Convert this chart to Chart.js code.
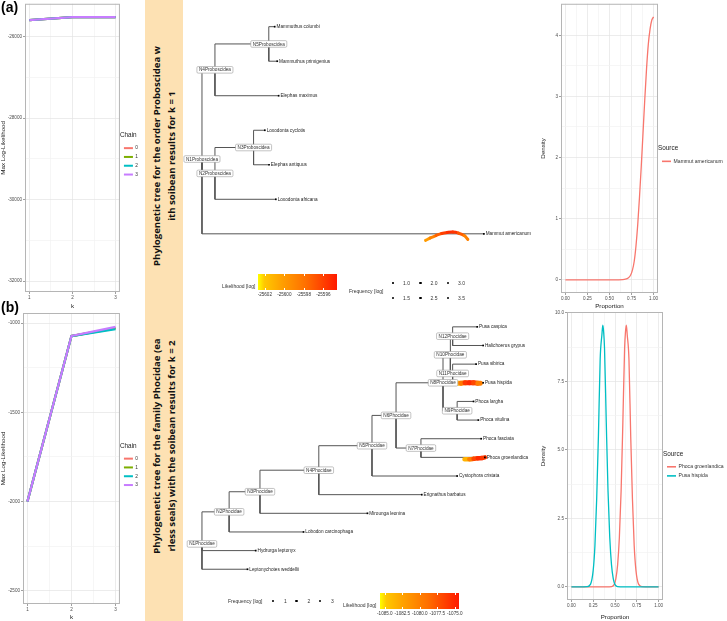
<!DOCTYPE html>
<html>
<head>
<meta charset="utf-8">
<title>soibean</title>
<script src="https://cdn.jsdelivr.net/npm/chart.js@4.4.1/dist/chart.umd.min.js"></script>
<style>
body{margin:0;background:#fff;}
#fig{position:relative;width:727px;height:621px;overflow:hidden;font-family:"Liberation Sans",Arial,sans-serif;color:#333;}
canvas{position:absolute;}
.lab{position:absolute;font-weight:bold;font-size:14px;line-height:14px;color:#000;z-index:5;}
.band{position:absolute;left:145px;top:0;width:38px;height:621px;background:#fde1b3;}
.bt{position:absolute;width:300px;height:38px;font-family:"Open Sans",sans-serif;font-weight:bold;font-size:9.6px;line-height:15px;text-align:center;color:#111;transform:rotate(-90deg);display:flex;flex-direction:column;justify-content:center;white-space:nowrap;}
.lg{position:absolute;font-size:5px;line-height:6px;color:#333;white-space:nowrap;}
</style>
</head>
<body>
<div id="fig">
  <div class="band"></div>
  <div class="bt" style="left:14px;top:137px"><div>Phylogenetic tree for the order Proboscidea w</div><div>ith soibean results for k = 1</div></div>
  <div class="bt" style="left:14px;top:427px"><div>Phylogenetic tree for the family Phocidae (ea</div><div>rless seals) with the soibean results for k = 2</div></div>
  <canvas id="lineA" width="148" height="310" style="left:0;top:0"></canvas>
  <canvas id="lineB" width="148" height="316" style="left:0;top:305px"></canvas>
  <canvas id="treeA" width="357" height="305" style="left:183px;top:0"></canvas>
  <canvas id="treeB" width="357" height="316" style="left:183px;top:305px"></canvas>
  <canvas id="densA" width="187" height="310" style="left:540px;top:0"></canvas>
  <canvas id="densB" width="187" height="316" style="left:540px;top:305px"></canvas>
  <div id="legends"></div>
  <div class="lab" style="left:1px;top:0">(a)</div>
  <div class="lab" style="left:1px;top:300px">(b)</div>
</div>
<script>
// ---- data ----
const kVals = [1, 2, 3];
const chainLabels = ['0', '1', '2', '3'];
const chainColors = ['#F8766D', '#7CAE00', '#00BFC4', '#C77CFF'];

// max log-likelihood per chain, Proboscidea (a)
const llA_0 = [-25592, -25519, -25519];
const llA_1 = [-25592, -25519, -25518];
const llA_2 = [-25591, -25518, -25518];
const llA_3 = [-25590, -25517, -25517];
const yTicksA = [-26000, -28000, -30000, -32000];

// max log-likelihood per chain, Phocidae (b)
const llB_0 = [-2000, -1073, -1030];
const llB_1 = [-2000, -1073, -1028];
const llB_2 = [-2000, -1073, -1034];
const llB_3 = [-2000, -1072, -1022];
const yTicksB = [-1000, -1500, -2000, -2500];

// density of the proportion (a)
const mammutX = [0, 0.1, 0.2, 0.3, 0.4, 0.5, 0.6, 0.65, 0.68, 0.70, 0.72, 0.74, 0.76, 0.78, 0.80, 0.82, 0.84, 0.86, 0.88, 0.90, 0.92, 0.94, 0.96, 0.98, 1.0];
const mammutY = [0, 0, 0, 0, 0, 0, 0.001, 0.004, 0.01, 0.02, 0.04, 0.08, 0.16, 0.3, 0.55, 0.9, 1.35, 1.85, 2.4, 2.95, 3.45, 3.85, 4.1, 4.25, 4.3];

// density of the proportion (b)
const phocaX = [0, 0.2, 0.4, 0.46, 0.49, 0.51, 0.53, 0.55, 0.57, 0.59, 0.61, 0.62, 0.63, 0.64, 0.66, 0.68, 0.70, 0.72, 0.74, 0.77, 0.81, 0.9, 1.0];
const phocaY = [0, 0, 0, 0.01, 0.08, 0.3, 0.8, 1.8, 3.5, 6.0, 8.7, 9.3, 9.55, 9.2, 8.3, 5.5, 3.2, 1.5, 0.6, 0.1, 0.01, 0, 0];
const pusaX = [0, 0.1, 0.18, 0.22, 0.25, 0.27, 0.29, 0.31, 0.33, 0.35, 0.36, 0.37, 0.38, 0.40, 0.42, 0.44, 0.46, 0.48, 0.50, 0.53, 0.6, 0.8, 1.0];
const pusaY = [0, 0, 0.01, 0.1, 0.6, 1.5, 3.2, 5.5, 8.3, 9.2, 9.55, 9.3, 8.7, 6.0, 3.5, 1.8, 0.8, 0.3, 0.08, 0.01, 0, 0, 0];

// tree (a) Proboscidea, tips from bottom to top
const tipsA = ['Mammut americanum', 'Loxodonta africana', 'Elephas antiquus', 'Loxodonta cyclotis', 'Elephas maximus', 'Mammuthus primigenius', 'Mammuthus columbi'];
const tipDepthA = [1.0, 0.262, 0.238, 0.223, 0.272, 0.267, 0.258];
const tipParentA = ['N1Proboscidea', 'N2Proboscidea', 'N3Proboscidea', 'N3Proboscidea', 'N4Proboscidea', 'N5Proboscidea', 'N5Proboscidea'];
const nodesA = ['N1Proboscidea', 'N2Proboscidea', 'N3Proboscidea', 'N4Proboscidea', 'N5Proboscidea'];
const nodeDepthA = [0, 0.046, 0.183, 0.046, 0.237];
const nodeParentA = [null, 'N1Proboscidea', 'N2Proboscidea', 'N1Proboscidea', 'N4Proboscidea'];
// likelihood along the Mammut branch
const arcAx = [0.793, 0.81, 0.83, 0.85, 0.87, 0.89, 0.91, 0.93, 0.943];
const arcAy = [0.81, 0.88, 0.95, 1.01, 1.04, 1.05, 1.02, 0.95, 0.84];
const arcAlik = [-25600.5, -25599.5, -25598, -25596.5, -25595.5, -25595.2, -25596, -25598, -25599.5];
const likTicksA = [-25602, -25600, -25598, -25596];
const likRangeA = [-25602.7, -25594.6];
const freqA = [1.0, 1.5, 2.0, 2.5, 3.0, 3.5];

// tree (b) Phocidae, tips from bottom to top
const tipsB = ['Leptonychotes weddellii', 'Hydrurga leptonyx', 'Lobodon carcinophaga', 'Mirounga leonina', 'Erignathus barbatus', 'Cystophora cristata', 'Phoca groenlandica', 'Phoca fasciata', 'Phoca vitulina', 'Phoca largha', 'Pusa hispida', 'Pusa sibirica', 'Halichoerus grypus', 'Pusa caspica'];
const tipDepthB = [0.161, 0.190, 0.359, 0.585, 0.777, 0.902, 1.000, 0.987, 0.977, 0.960, 0.994, 0.969, 0.994, 0.973];
const tipParentB = ['N1Phocidae', 'N1Phocidae', 'N2Phocidae', 'N3Phocidae', 'N4Phocidae', 'N5Phocidae', 'N7Phocidae', 'N7Phocidae', 'N9Phocidae', 'N9Phocidae', 'N11Phocidae', 'N11Phocidae', 'N12Phocidae', 'N12Phocidae'];
const nodesB = ['N1Phocidae', 'N2Phocidae', 'N3Phocidae', 'N4Phocidae', 'N5Phocidae', 'N6Phocidae', 'N7Phocidae', 'N8Phocidae', 'N9Phocidae', 'N10Phocidae', 'N11Phocidae', 'N12Phocidae'];
const nodeDepthB = [0, 0.096, 0.205, 0.413, 0.601, 0.686, 0.774, 0.852, 0.902, 0.878, 0.886, 0.886];
const nodeParentB = [null, 'N1Phocidae', 'N2Phocidae', 'N3Phocidae', 'N4Phocidae', 'N5Phocidae', 'N6Phocidae', 'N6Phocidae', 'N8Phocidae', 'N8Phocidae', 'N10Phocidae', 'N10Phocidae'];
// likelihood on the Pusa hispida and Phoca groenlandica branches
const hispX = [0.904, 0.915, 0.93, 0.945, 0.96, 0.975, 0.984];
const hispY = [10.97, 10.98, 11.0, 11.0, 11.0, 10.98, 10.97];
const hispLik = [-1085, -1082, -1077, -1075, -1075.5, -1078, -1082];
const groenX = [0.928, 0.945, 0.96, 0.975, 0.99, 1.0];
const groenY = [6.9, 6.9, 6.92, 6.95, 6.97, 7.0];
const groenLik = [-1085, -1082, -1078, -1075.5, -1075, -1077];
const likTicksB = [-1085.0, -1082.5, -1080.0, -1077.5, -1075.0];
const likRangeB = [-1085.7, -1074.4];
const freqB = [1, 2, 3];

Chart.defaults.font.family = '"Liberation Sans", Arial, sans-serif';

const heatStops = [[0, [255, 255, 0]], [0.08, [255, 200, 0]], [0.3, [255, 160, 0]], [0.6, [255, 112, 0]], [1, [255, 26, 0]]];
function heatColor(v, range) {
	let t = (v - range[0]) / (range[1] - range[0]);
	t = Math.max(0, Math.min(1, t));
	for (let i = 1; i < heatStops.length; i++) {
		if (t <= heatStops[i][0]) {
			const a = heatStops[i - 1], b = heatStops[i], f = (t - a[0]) / (b[0] - a[0]);
			const c = a[1].map((x, j) => Math.round(x + (b[1][j] - x) * f));
			return 'rgb(' + c.join(',') + ')';
		}
	}
	return 'rgb(255,26,0)';
}

// border all around the panel, like theme_bw
const panelBorder = {
	id: 'panelBorder',
	afterDatasetsDraw(chart) {
		const a = chart.chartArea, c = chart.ctx;
		c.save();
		c.strokeStyle = '#b5b5b5';
		c.lineWidth = 1;
		c.strokeRect(a.left + 0.5, a.top + 0.5, a.width - 1, a.height - 1);
		c.restore();
	}
};

function axis(min, max, ticks, major, fmt, title, size, isY) {
	return {
		type: 'linear', min: min, max: max,
		afterBuildTicks: s => { s.ticks = ticks.map(v => ({value: v})); },
		afterFit: s => { if (isY) s.width = size; else s.height = size; },
		ticks: {autoSkip: false, maxRotation: 0, padding: 1, font: {size: 4.6}, color: '#4d4d4d',
			callback: v => major.includes(v) ? fmt(v) : ''},
		grid: {color: c => major.includes(c.tick.value) ? '#e4e4e4' : '#f2f2f2', lineWidth: 0.7,
			tickColor: c => major.includes(c.tick.value) ? '#777' : 'rgba(0,0,0,0)', tickLength: 2},
		border: {display: false},
		title: {display: true, text: title, font: {size: 6.2}, color: '#222', padding: 0}
	};
}

function legendCfg(title, boxH, maxW, fs) {
	return {
		position: 'right', align: 'center', maxWidth: maxW,
		title: {display: true, text: title, font: {size: 6.4}, color: '#222', padding: {top: 0, bottom: 2}, position: 'start'},
		labels: {boxWidth: 9, boxHeight: boxH, font: {size: fs}, color: '#333', padding: 4,
			sort: (a, b) => a.datasetIndex - b.datasetIndex,
			generateLabels: ch => Chart.defaults.plugins.legend.labels.generateLabels(ch).map(l => Object.assign(l, {lineWidth: 0, strokeStyle: 'rgba(0,0,0,0)'}))}
	};
}

function lineChart(id, series, yMin, yMax, yTicks, padTop, xH, yW) {
	const minor = [];
	for (let i = 0; i < yTicks.length - 1; i++) minor.push((yTicks[i] + yTicks[i + 1]) / 2);
	const ds = series.map((s, i) => ({
		label: chainLabels[i],
		data: kVals.map((k, j) => ({x: k, y: s[j]})),
		borderColor: chainColors[i], backgroundColor: chainColors[i],
		borderWidth: 2.2, pointRadius: 0, tension: 0,
		order: series.length - i
	}));
	return new Chart(document.getElementById(id), {
		type: 'line',
		data: {datasets: ds},
		options: {
			responsive: false, animation: false,
			layout: {padding: {top: padTop, right: 0, left: 0, bottom: 0}},
			scales: {
				x: axis(0.9, 3.1, [1, 1.5, 2, 2.5, 3], kVals, v => String(v), 'k', xH, false),
				y: axis(yMin, yMax, yTicks.concat(minor), yTicks, v => String(v), 'Max Log-Likelihood', yW, true)
			},
			plugins: {legend: legendCfg('Chain', 2, 90, 4.8), tooltip: {enabled: false}}
		},
		plugins: [panelBorder]
	});
}

function densChart(id, curves, yMin, yMax, yTicks, yFmt, padTop, xH, yW, legW) {
	const minor = [];
	for (let i = 0; i < yTicks.length - 1; i++) minor.push((yTicks[i] + yTicks[i + 1]) / 2);
	const xMajor = [0, 0.25, 0.5, 0.75, 1];
	const ds = curves.map((c, i) => ({
		label: c.name,
		data: c.x.map((v, j) => ({x: v, y: c.y[j]})),
		borderColor: c.color, backgroundColor: c.color,
		borderWidth: 1.3, pointRadius: 0, tension: 0.3, cubicInterpolationMode: 'monotone',
		order: curves.length - i
	}));
	return new Chart(document.getElementById(id), {
		type: 'line',
		data: {datasets: ds},
		options: {
			responsive: false, animation: false,
			layout: {padding: {top: padTop, right: 0, left: 0, bottom: 0}},
			scales: {
				x: axis(-0.05, 1.05, [0, 0.125, 0.25, 0.375, 0.5, 0.625, 0.75, 0.875, 1], xMajor, v => v.toFixed(2), 'Proportion', xH, false),
				y: axis(yMin, yMax, yTicks.concat(minor), yTicks, yFmt, 'Density', yW, true)
			},
			plugins: {legend: legendCfg('Source', 1.6, legW, 5.1), tooltip: {enabled: false}}
		},
		plugins: [panelBorder]
	});
}

lineChart('lineA', [llA_0, llA_1, llA_2, llA_3], -32270, -25190, yTicksA, 3, 18, 25);
lineChart('lineB', [llB_0, llB_1, llB_2, llB_3], -2573, -944, yTicksB, 8, 17, 23);

densChart('densA', [{name: 'Mammut americanum', x: mammutX, y: mammutY, color: '#F8766D'}],
	-0.215, 4.515, [0, 1, 2, 3, 4], v => String(v), 3, 17, 21, 69);
densChart('densB', [{name: 'Phoca groenlandica', x: phocaX, y: phocaY, color: '#F8766D'},
	{name: 'Pusa hispida', x: pusaX, y: pusaY, color: '#00BFC4'}],
	-0.48, 10.03, [0, 2.5, 5, 7.5, 10], v => v.toFixed(1), 7, 21, 27, 64);

// ---- trees ----
function buildTree(tips, tipDepth, tipParent, nodes, nodeDepth, nodeParent) {
	const pos = {};
	tips.forEach((t, i) => pos[t] = {x: tipDepth[i], y: i + 1, p: tipParent[i]});
	nodes.forEach((n, i) => pos[n] = {x: nodeDepth[i], p: nodeParent[i]});
	function yOf(n) {
		if (pos[n].y !== undefined) return pos[n].y;
		const kids = Object.keys(pos).filter(k => pos[k].p === n);
		pos[n].y = kids.reduce((a, k) => a + yOf(k), 0) / kids.length;
		return pos[n].y;
	}
	nodes.forEach(yOf);
	const edges = [];
	Object.keys(pos).forEach(k => {
		const c = pos[k];
		if (!c.p) return;
		const p = pos[c.p];
		edges.push({
			data: [{x: p.x, y: p.y}, {x: p.x, y: c.y}, {x: c.x, y: c.y}],
			showLine: true, borderColor: '#555', borderWidth: 1, pointRadius: 0, tension: 0, order: 3
		});
	});
	return {pos: pos, edges: edges};
}

function heatSet(xs, ys, lik, range, w) {
	return {
		data: xs.map((x, i) => ({x: x, y: ys[i]})),
		showLine: true, borderWidth: w, pointRadius: 0, tension: 0.4, borderCapStyle: 'round', order: 2,
		borderColor: heatColor(lik[0], range),
		segment: {borderColor: c => heatColor((lik[c.p0DataIndex] + lik[c.p1DataIndex]) / 2, range)}
	};
}

function treeChart(id, tree, tips, nodes, heat, xr, yr) {
	const labels = {
		id: 'treeLabels',
		afterDatasetsDraw(chart) {
			const c = chart.ctx, xs = chart.scales.x, ys = chart.scales.y;
			c.save();
			c.font = '4.7px "Liberation Sans"';
			c.textBaseline = 'middle';
			tips.forEach(t => {
				c.fillStyle = '#222';
				c.textAlign = 'left';
				c.fillText(t, xs.getPixelForValue(tree.pos[t].x) + 1.8, ys.getPixelForValue(tree.pos[t].y));
			});
			nodes.forEach(n => {
				const px = xs.getPixelForValue(tree.pos[n].x), py = ys.getPixelForValue(tree.pos[n].y);
				const w = c.measureText(n).width + 4, h = 6.6;
				c.fillStyle = '#fff';
				c.strokeStyle = '#9a9a9a';
				c.lineWidth = 0.6;
				c.beginPath();
				c.roundRect(px - w / 2, py - h / 2, w, h, 1.2);
				c.fill();
				c.stroke();
				c.fillStyle = '#333';
				c.textAlign = 'center';
				c.fillText(n, px, py + 0.3);
			});
			c.restore();
		}
	};
	const tipDots = {
		data: tips.map(t => ({x: tree.pos[t].x, y: tree.pos[t].y})),
		showLine: false, pointRadius: 1.2, pointStyle: 'rect', backgroundColor: '#000', borderWidth: 0, order: 1
	};
	return new Chart(document.getElementById(id), {
		type: 'scatter',
		data: {datasets: tree.edges.concat(heat, [tipDots])},
		options: {
			responsive: false, animation: false,
			layout: {padding: 0},
			scales: {
				x: {type: 'linear', display: false, min: xr[0], max: xr[1]},
				y: {type: 'linear', display: false, min: yr[0], max: yr[1]}
			},
			plugins: {legend: {display: false}, tooltip: {enabled: false}}
		},
		plugins: [labels]
	});
}

const treeA = buildTree(tipsA, tipDepthA, tipParentA, nodesA, nodeDepthA, nodeParentA);
treeChart('treeA', treeA, tipsA, nodesA, [heatSet(arcAx, arcAy, arcAlik, likRangeA, 3)], [-0.0531, 1.1848], [-0.946, 7.657]);
const treeB = buildTree(tipsB, tipDepthB, tipParentB, nodesB, nodeDepthB, nodeParentB);
treeChart('treeB', treeB, tipsB, nodesB, [heatSet(hispX, hispY, hispLik, likRangeB, 5), heatSet(groenX, groenY, groenLik, likRangeB, 4.5)],
	[-0.0529, 1.1807], [-1.561, 14.957]);

// ---- tree legends (html) ----
const lg = document.getElementById('legends');
function put(html, style) {
	const d = document.createElement('div');
	d.className = 'lg';
	d.style.cssText = style;
	d.innerHTML = html;
	lg.appendChild(d);
	return d;
}
const grad = 'linear-gradient(to right,' + heatStops.map(s => 'rgb(' + s[1].join(',') + ') ' + (s[0] * 100) + '%').join(',') + ')';
function heatLegend(left, top, w, h, ticks, range, digits, tLeft, tTop) {
	put('', 'left:' + left + 'px;top:' + top + 'px;width:' + w + 'px;height:' + h + 'px;background:' + grad);
	put('Likelihood [log]', 'left:' + tLeft + 'px;top:' + tTop + 'px');
	ticks.forEach(v => {
		const x = left + (v - range[0]) / (range[1] - range[0]) * w;
		put(v.toFixed(digits), 'left:' + (x - 15) + 'px;width:30px;text-align:center;top:' + (top + h + 2) + 'px;font-size:4.6px');
		put('', 'left:' + (x - 0.3) + 'px;top:' + top + 'px;width:0.6px;height:2px;background:#fff');
		put('', 'left:' + (x - 0.3) + 'px;top:' + (top + h - 2) + 'px;width:0.6px;height:2px;background:#fff');
	});
}
heatLegend(258, 274, 79, 16, likTicksA, likRangeA, 0, 222, 283);
heatLegend(380, 593, 79, 16, likTicksB, likRangeB, 1, 343, 602);

put('Frequency [log]', 'left:349px;top:288px');
freqA.forEach((f, i) => {
	const x = 393 + Math.floor(i / 2) * 27.5, y = 283 + (i % 2) * 15, r = 0.8 + i * 0.12;
	put('', 'left:' + (x - r) + 'px;top:' + (y - r) + 'px;width:' + (2 * r) + 'px;height:' + (2 * r) + 'px;background:#000;border-radius:50%');
	put(f.toFixed(1), 'left:' + (x + 10) + 'px;top:' + (y - 3) + 'px');
});
put('Frequency [log]', 'left:228px;top:598px');
freqB.forEach((f, i) => {
	const x = 273 + i * 23.5, y = 601, r = 0.9 + i * 0.2;
	put('', 'left:' + (x - r) + 'px;top:' + (y - r) + 'px;width:' + (2 * r) + 'px;height:' + (2 * r) + 'px;background:#000;border-radius:50%');
	put(String(f), 'left:' + (x + 11) + 'px;top:' + (y - 3) + 'px');
});
</script>
</body>
</html>
